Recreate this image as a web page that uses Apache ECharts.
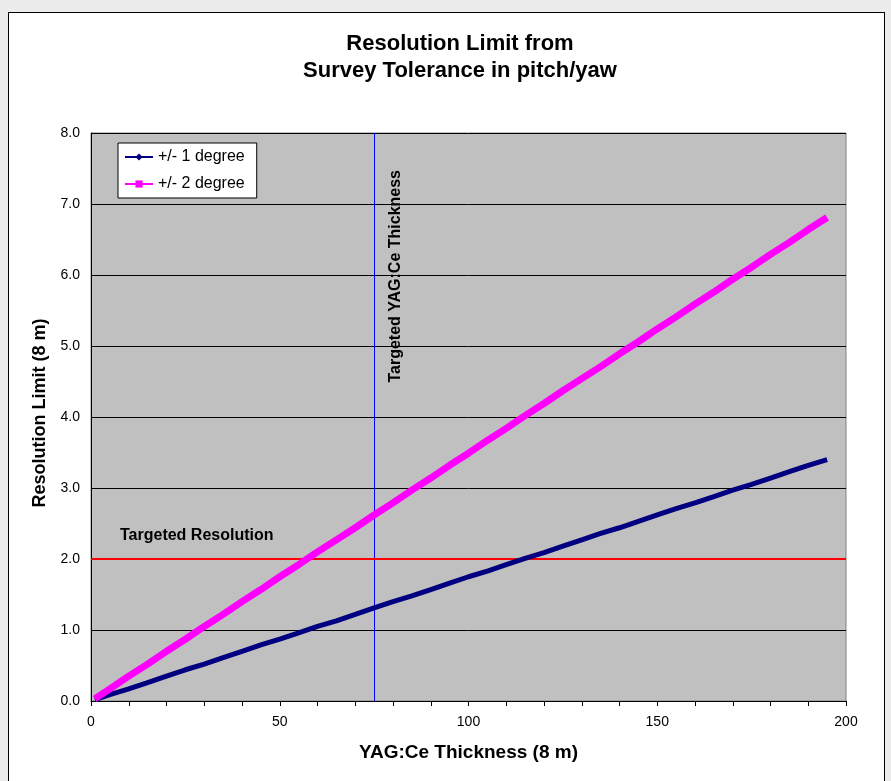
<!DOCTYPE html>
<html>
<head>
<meta charset="utf-8">
<script src="https://cdn.jsdelivr.net/npm/echarts@6/dist/echarts.min.js"></script>
<style>
  html, body { margin: 0; padding: 0; background: #ececec; }
  #frame { position: absolute; left: 8px; top: 12px; width: 875px; height: 780px; background: #fff; border: 1px solid #000; }
  #chart { position: absolute; left: 0; top: 0; width: 891px; height: 781px; }
</style>
</head>
<body>
<div id="frame"></div>
<div id="chart"></div>
<script>
// YAG:Ce thickness (µm) and the resulting resolution limit (µm)
const thickness = [1, 5, 10, 15, 20, 25, 30, 35, 40, 45, 50, 55, 60, 65, 70, 75, 80, 85, 90, 95,
  100, 105, 110, 115, 120, 125, 130, 135, 140, 145, 150, 155, 160, 165, 170, 175, 180, 185, 190, 195];
const oneDegree = [0.02, 0.09, 0.17, 0.26, 0.35, 0.44, 0.52, 0.61, 0.70, 0.79, 0.87, 0.96, 1.05, 1.13, 1.22, 1.31, 1.40, 1.48, 1.57, 1.66,
  1.75, 1.83, 1.92, 2.01, 2.09, 2.18, 2.27, 2.36, 2.44, 2.53, 2.62, 2.71, 2.79, 2.88, 2.97, 3.05, 3.14, 3.23, 3.32, 3.40];
const twoDegree = [0.03, 0.17, 0.35, 0.52, 0.70, 0.87, 1.05, 1.22, 1.40, 1.57, 1.75, 1.92, 2.10, 2.27, 2.44, 2.62, 2.79, 2.97, 3.14, 3.32,
  3.49, 3.67, 3.84, 4.02, 4.19, 4.37, 4.54, 4.71, 4.89, 5.06, 5.24, 5.41, 5.59, 5.76, 5.94, 6.11, 6.29, 6.46, 6.64, 6.81];
const seriesNames = ['+/- 1 degree', '+/- 2 degree'];
const targetThickness = 75;
const targetResolution = 2.0;

const font = "'Liberation Sans', Arial, sans-serif";
const pairs = (ys) => thickness.map((x, i) => [x, ys[i]]);

const chart = echarts.init(document.getElementById('chart'), null, { renderer: 'canvas' });
chart.setOption({
  backgroundColor: 'transparent',
  animation: false,
  textStyle: { fontFamily: font },
  title: {
    text: 'Resolution Limit from\nSurvey Tolerance in pitch/yaw',
    left: 455,
    top: 25,
    textAlign: 'center',
    textStyle: { fontFamily: font, fontSize: 22, fontWeight: 'bold', color: '#000', lineHeight: 27 }
  },
  legend: {
    data: seriesNames,
    orient: 'vertical',
    left: 118,
    top: 143,
    backgroundColor: '#fff',
    borderColor: '#000',
    borderWidth: 1,
    borderRadius: 0,
    padding: [6, 12, 6, 6],
    itemWidth: 28,
    itemHeight: 9,
    itemGap: 11,
    textStyle: { fontFamily: font, fontSize: 16, color: '#000', lineHeight: 16 }
  },
  grid: {
    left: 91, right: 45, top: 133, bottom: 80,
    show: true,
    backgroundColor: '#c0c0c0',
    borderColor: '#808080',
    borderWidth: 1
  },
  xAxis: {
    type: 'value',
    min: 0, max: 200, interval: 10,
    name: 'YAG:Ce Thickness (8 m)',
    nameLocation: 'middle',
    nameGap: 42,
    nameTextStyle: { fontFamily: font, fontSize: 19, fontWeight: 'bold', color: '#000' },
    axisLine: { lineStyle: { color: '#000', width: 1 } },
    axisTick: { show: true, length: 5, inside: false, lineStyle: { color: '#000' } },
    axisLabel: {
      fontFamily: font, fontSize: 14, color: '#000', margin: 14,
      formatter: (v) => (v % 50 === 0 ? String(v) : '')
    },
    splitLine: { show: false }
  },
  yAxis: {
    type: 'value',
    min: 0, max: 8, interval: 1,
    name: 'Resolution Limit (8 m)',
    nameLocation: 'middle',
    nameGap: 42,
    nameTextStyle: { fontFamily: font, fontSize: 18, fontWeight: 'bold', color: '#000', padding: [0, 0, 0, 8] },
    axisLine: { show: true, lineStyle: { color: '#000', width: 1 } },
    axisTick: { show: false },
    axisLabel: { fontFamily: font, fontSize: 14, color: '#000', margin: 11, formatter: (v) => v.toFixed(1) },
    splitLine: { show: true, lineStyle: { color: '#000', width: 1 } }
  },
  series: [
    {
      name: seriesNames[0],
      type: 'line',
      data: pairs(oneDegree),
      symbol: 'diamond',
      symbolSize: 8,
      showSymbol: false,
      color: '#000080',
      lineStyle: { color: '#000080', width: 5 },
      z: 4,
      markLine: {
        silent: true,
        symbol: 'none',
        animation: false,
        z: 2,
        data: [
          {
            xAxis: targetThickness,
            lineStyle: { color: '#0000ff', width: 1, type: 'solid' },
            label: {
              show: true,
              formatter: 'Targeted YAG:Ce Thickness',
              position: 'insideEndBottom',
              distance: [37, 13],
              fontFamily: font, fontSize: 16, fontWeight: 'bold', color: '#000'
            }
          },
          {
            yAxis: targetResolution,
            lineStyle: { color: '#ff0000', width: 2, type: 'solid' },
            label: {
              show: true,
              formatter: 'Targeted Resolution',
              position: 'insideStartTop',
              distance: [29, 15],
              fontFamily: font, fontSize: 16, fontWeight: 'bold', color: '#000'
            }
          }
        ]
      }
    },
    {
      name: seriesNames[1],
      type: 'line',
      data: pairs(twoDegree),
      symbol: 'rect',
      symbolSize: 8,
      showSymbol: false,
      color: '#ff00ff',
      lineStyle: { color: '#ff00ff', width: 7 },
      z: 5
    }
  ]
});
</script>
</body>
</html>
